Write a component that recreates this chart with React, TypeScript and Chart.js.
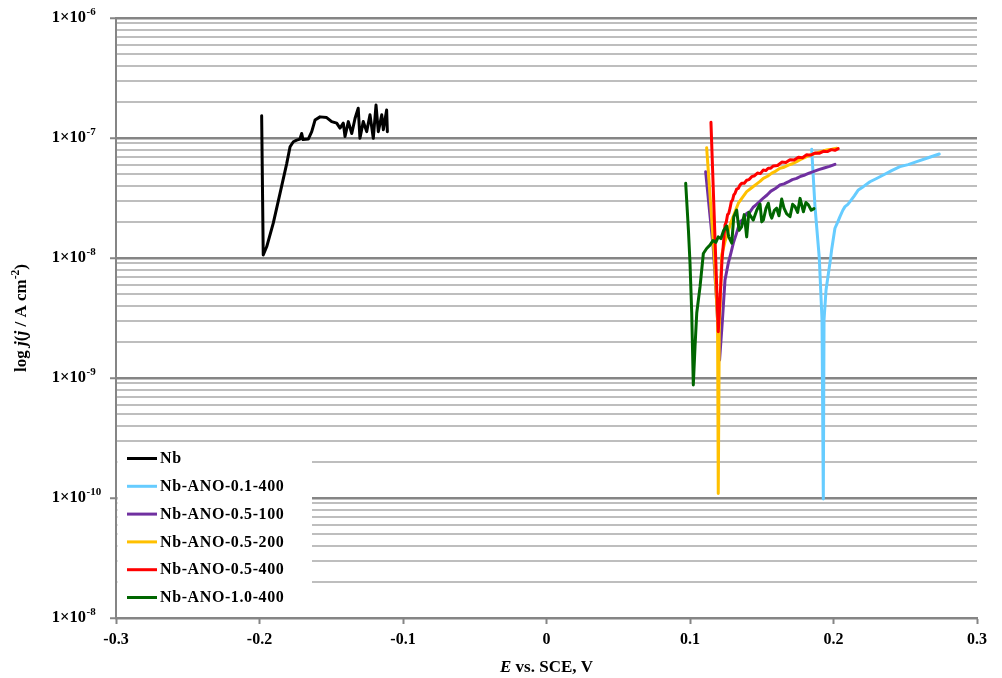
import React, { useEffect, useRef } from 'react';
import { Chart, registerables } from 'chart.js';

Chart.register(...registerables);

// Polarisation curves: potential E (V vs. SCE) and current density j (A cm-2)
const seriesNames = ['Nb', 'Nb-ANO-0.1-400', 'Nb-ANO-0.5-100', 'Nb-ANO-0.5-200', 'Nb-ANO-0.5-400', 'Nb-ANO-1.0-400'];
const seriesColors = ['#000000', '#66CCFF', '#7030A0', '#FFC000', '#FF0000', '#006600'];

const nbE = [-0.1985, -0.1974, -0.195, -0.1904, -0.1857, -0.181, -0.1787, -0.1764, -0.1741, -0.1718, -0.1706, -0.1697, -0.166, -0.1636, -0.1613, -0.1578, -0.1532, -0.1497, -0.1462, -0.1439, -0.1416, -0.1404, -0.1381, -0.1357, -0.1334, -0.1312, -0.13, -0.1277, -0.1253, -0.123, -0.1207, -0.1188, -0.1172, -0.1148, -0.1137, -0.1114, -0.1109];
const nbJ = [1.53e-7, 1.06e-8, 1.24e-8, 1.95e-8, 3.46e-8, 6.15e-8, 8.46e-8, 9.31e-8, 9.6e-8, 9.8e-8, 1.09e-7, 9.7e-8, 9.8e-8, 1.13e-7, 1.41e-7, 1.5e-7, 1.48e-7, 1.37e-7, 1.33e-7, 1.21e-7, 1.33e-7, 1.03e-7, 1.37e-7, 1.09e-7, 1.46e-7, 1.77e-7, 9.94e-8, 1.37e-7, 1.13e-7, 1.56e-7, 9.94e-8, 1.88e-7, 1.13e-7, 1.56e-7, 1.17e-7, 1.71e-7, 1.13e-7];

const ano01_400E = [0.1848, 0.1871, 0.1901, 0.192, 0.1929, 0.1934, 0.1948, 0.198, 0.1987, 0.201, 0.203, 0.2045, 0.2065, 0.208, 0.21, 0.2115, 0.2145, 0.2173, 0.221, 0.2254, 0.23, 0.2347, 0.2405, 0.2463, 0.252, 0.258, 0.266, 0.2737];
const ano01_400J = [8.05e-8, 2.68e-8, 1.0e-8, 3.05e-9, 9.8e-11, 3.05e-9, 5.41e-9, 1.0e-8, 1.17e-8, 1.77e-8, 2.0e-8, 2.21e-8, 2.5e-8, 2.68e-8, 2.8e-8, 2.95e-8, 3.3e-8, 3.69e-8, 3.95e-8, 4.32e-8, 4.6e-8, 4.92e-8, 5.35e-8, 5.77e-8, 6.0e-8, 6.35e-8, 6.85e-8, 7.36e-8];

const ano05_100E = [0.1109, 0.1139, 0.1162, 0.1185, 0.1206, 0.1226, 0.1244, 0.1267, 0.1285, 0.1302, 0.1325, 0.1348, 0.137, 0.1395, 0.1418, 0.144, 0.146, 0.1485, 0.1511, 0.1537, 0.1564, 0.1595, 0.1627, 0.1655, 0.1683, 0.1713, 0.1743, 0.1772, 0.1801, 0.183, 0.1859, 0.1897, 0.1934, 0.1972, 0.201];
const ano05_100J = [5.24e-8, 2.28e-8, 1.21e-8, 4.47e-9, 1.41e-9, 3.05e-9, 6.56e-9, 9.08e-9, 1.1e-8, 1.33e-8, 1.62e-8, 2.0e-8, 2.1e-8, 2.35e-8, 2.42e-8, 2.65e-8, 2.77e-8, 2.95e-8, 3.16e-8, 3.35e-8, 3.61e-8, 3.8e-8, 4.06e-8, 4.15e-8, 4.3e-8, 4.5e-8, 4.61e-8, 4.8e-8, 4.92e-8, 5.1e-8, 5.24e-8, 5.45e-8, 5.62e-8, 5.8e-8, 6.04e-8];

const ano05_200E = [0.1116, 0.1169, 0.1192, 0.1197, 0.1204, 0.1221, 0.1244, 0.1262, 0.1279, 0.1297, 0.1314, 0.1337, 0.1366, 0.1395, 0.143, 0.1465, 0.1488, 0.1511, 0.154, 0.157, 0.1598, 0.1627, 0.1656, 0.1685, 0.1714, 0.1743, 0.1767, 0.179, 0.1813, 0.1836, 0.1866, 0.1895, 0.1924, 0.1953, 0.1988, 0.2022];
const ano05_200J = [8.3e-8, 1.06e-8, 3.05e-9, 1.09e-10, 2.51e-9, 1.06e-8, 1.37e-8, 1.6e-8, 1.88e-8, 2.15e-8, 2.43e-8, 2.86e-8, 3.2e-8, 3.57e-8, 3.85e-8, 4.15e-8, 4.35e-8, 4.61e-8, 4.8e-8, 5.1e-8, 5.3e-8, 5.59e-8, 5.7e-8, 5.95e-8, 6.1e-8, 6.35e-8, 6.6e-8, 6.8e-8, 7.0e-8, 7.22e-8, 7.4e-8, 7.6e-8, 7.75e-8, 7.94e-8, 8.05e-8, 8.2e-8];

const ano05_400E = [0.1146, 0.1197, 0.1209, 0.1223, 0.1244, 0.1253, 0.1262, 0.127, 0.1279, 0.1288, 0.1297, 0.1305, 0.1314, 0.1325, 0.1337, 0.1348, 0.136, 0.1378, 0.1395, 0.1412, 0.143, 0.145, 0.147, 0.149, 0.1511, 0.1528, 0.1545, 0.1563, 0.1581, 0.161, 0.164, 0.1668, 0.1697, 0.1726, 0.1755, 0.1784, 0.1813, 0.1842, 0.187, 0.19, 0.1929, 0.1957, 0.1985, 0.201, 0.2033];
const ano05_400J = [1.35e-7, 2.43e-9, 4.47e-9, 9.6e-9, 1.88e-8, 2.0e-8, 2.3e-8, 2.35e-8, 2.6e-8, 2.95e-8, 3.05e-8, 3.35e-8, 3.46e-8, 3.75e-8, 3.8e-8, 4.05e-8, 4.19e-8, 4.2e-8, 4.45e-8, 4.5e-8, 4.76e-8, 4.85e-8, 5.1e-8, 5.05e-8, 5.41e-8, 5.35e-8, 5.6e-8, 5.6e-8, 5.85e-8, 5.9e-8, 6.3e-8, 6.25e-8, 6.6e-8, 6.55e-8, 6.9e-8, 6.85e-8, 7.25e-8, 7.2e-8, 7.5e-8, 7.45e-8, 7.75e-8, 7.7e-8, 8.0e-8, 7.9e-8, 8.15e-8];

const ano10_400E = [0.097, 0.0989, 0.1, 0.1012, 0.1023, 0.1035, 0.1047, 0.107, 0.1093, 0.1116, 0.1139, 0.116, 0.118, 0.1197, 0.1215, 0.1235, 0.1256, 0.127, 0.1291, 0.1305, 0.1325, 0.1342, 0.136, 0.1378, 0.1395, 0.141, 0.1418, 0.1441, 0.1465, 0.1488, 0.15, 0.1511, 0.153, 0.1546, 0.156, 0.157, 0.1588, 0.1604, 0.162, 0.1639, 0.1655, 0.1674, 0.1697, 0.1715, 0.1732, 0.175, 0.1767, 0.179, 0.1808, 0.1825, 0.1845, 0.1864];
const ano10_400J = [4.19e-8, 1.71e-8, 9.08e-9, 3.48e-9, 8.74e-10, 1.82e-9, 3.48e-9, 5.77e-9, 1.09e-8, 1.2e-8, 1.28e-8, 1.4e-8, 1.35e-8, 1.5e-8, 1.45e-8, 1.7e-8, 1.85e-8, 1.5e-8, 1.33e-8, 2.2e-8, 2.51e-8, 1.7e-8, 1.82e-8, 2.3e-8, 1.5e-8, 2.4e-8, 2.28e-8, 2.07e-8, 2.5e-8, 2.82e-8, 2.0e-8, 2.07e-8, 2.6e-8, 2.86e-8, 2.3e-8, 2.15e-8, 2.5e-8, 2.6e-8, 2.25e-8, 3.1e-8, 2.6e-8, 2.33e-8, 2.21e-8, 2.8e-8, 2.68e-8, 2.4e-8, 3.14e-8, 2.43e-8, 2.9e-8, 2.77e-8, 2.5e-8, 2.58e-8];

const seriesE = [nbE, ano01_400E, ano05_100E, ano05_200E, ano05_400E, ano10_400E];
const seriesJ = [nbJ, ano01_400J, ano05_100J, ano05_200J, ano05_400J, ano10_400J];

// Axis ticks
const xTicks = [-0.3, -0.2, -0.1, 0, 0.1, 0.2, 0.3];
const xTickLabels = ['-0.3', '-0.2', '-0.1', '0', '0.1', '0.2', '0.3'];
const yDecades = [1e-11, 1e-10, 1e-9, 1e-8, 1e-7, 1e-6];
const yDecadeExponents = ['-8', '-10', '-9', '-8', '-7', '-6'];
const yMinorMultipliers = [2, 3, 4, 5, 6, 7, 8, 9];

const SERIF = '"Liberation Serif", "Times New Roman", serif';
const MAJOR_GRID = '#858585';
const MINOR_GRID = '#BEBEBE';
const AXIS_GREY = '#858585';

const yGridValues: number[] = [];
yDecades.forEach((d, i) => {
  yGridValues.push(d);
  if (i < yDecades.length - 1) yMinorMultipliers.forEach((m) => yGridValues.push(d * m));
});

const isDecade = (v: number) => Math.abs(Math.log10(v) - Math.round(Math.log10(v))) < 1e-6;

type Seg = { t: string; italic?: boolean; sup?: boolean };

function drawSegments(ctx: CanvasRenderingContext2D, segs: Seg[], cx: number, cy: number, size: number, supSize: number) {
  const fontFor = (s: Seg) => `${s.italic ? 'italic ' : ''}bold ${s.sup ? supSize : size}px ${SERIF}`;
  let total = 0;
  segs.forEach((s) => {
    ctx.font = fontFor(s);
    total += ctx.measureText(s.t).width;
  });
  let x = cx - total / 2;
  ctx.textAlign = 'left';
  ctx.textBaseline = 'middle';
  segs.forEach((s) => {
    ctx.font = fontFor(s);
    ctx.fillText(s.t, x, s.sup ? cy - size * 0.35 : cy);
    x += ctx.measureText(s.t).width;
  });
}

const decorations = {
  id: 'decorations',
  afterDatasetsDraw(chart: any) {
    const { ctx, chartArea } = chart;
    ctx.save();
    // legend panel in the lower-left corner of the plot
    const boxLeft = chartArea.left + 1.5;
    const boxTop = 444;
    ctx.fillStyle = '#ffffff';
    ctx.fillRect(boxLeft, boxTop, 312 - boxLeft, chartArea.bottom - 1 - boxTop);
    chart.data.datasets.forEach((ds: any, i: number) => {
      const y = 458.5 + i * 27.8;
      ctx.strokeStyle = ds.borderColor;
      ctx.lineWidth = 3;
      ctx.lineCap = 'butt';
      ctx.beginPath();
      ctx.moveTo(127, y);
      ctx.lineTo(157, y);
      ctx.stroke();
      ctx.fillStyle = '#000';
      ctx.font = `bold 16px ${SERIF}`;
      ctx.textAlign = 'left';
      ctx.textBaseline = 'middle';
      (ctx as any).letterSpacing = '0.6px';
      ctx.fillText(ds.label, 160, y + 0.5);
      (ctx as any).letterSpacing = '0px';
    });
    ctx.restore();
  },
  afterDraw(chart: any) {
    const { ctx, chartArea, scales } = chart;
    ctx.save();
    ctx.fillStyle = '#000';
    // y tick labels with raised exponents
    yDecades.forEach((v, i) => {
      const y = scales.y.getPixelForValue(v);
      ctx.font = `bold 16.5px ${SERIF}`;
      ctx.textAlign = 'right';
      ctx.textBaseline = 'middle';
      ctx.fillText('1×10', 86, y);
      ctx.font = `bold 11px ${SERIF}`;
      ctx.textAlign = 'left';
      ctx.fillText(yDecadeExponents[i], 86.5, y - 5.5);
    });
    // x axis title
    drawSegments(ctx, [{ t: 'E', italic: true }, { t: ' vs. SCE, V' }], (chartArea.left + chartArea.right) / 2, 668, 17, 11.5);
    // y axis title
    ctx.translate(22, (chartArea.top + chartArea.bottom) / 2);
    ctx.rotate(-Math.PI / 2);
    drawSegments(
      ctx,
      [{ t: 'log ' }, { t: 'j', italic: true }, { t: '(' }, { t: 'j', italic: true }, { t: ' / A cm' }, { t: '-2', sup: true }, { t: ')' }],
      0,
      0,
      17,
      11.5
    );
    ctx.restore();
  },
};

export default function App() {
  const canvasRef = useRef<HTMLCanvasElement | null>(null);

  useEffect(() => {
    if (!canvasRef.current) return;
    const datasets = seriesNames.map((name, i) => ({
      label: name,
      data: seriesE[i].map((e, k) => ({ x: e, y: seriesJ[i][k] })),
      borderColor: seriesColors[i],
      backgroundColor: seriesColors[i],
      borderWidth: 3,
      pointRadius: 0,
      pointHoverRadius: 0,
      showLine: true,
      tension: 0,
      fill: false,
      borderJoinStyle: 'round' as const,
      borderCapStyle: 'round' as const,
      order: seriesNames.length - i,
    }));

    const chart = new Chart(canvasRef.current, {
      type: 'scatter',
      data: { datasets },
      options: {
        animation: false,
        responsive: false,
        layout: { padding: { top: 18, right: 25, left: 0, bottom: 0 } },
        plugins: { legend: { display: false }, tooltip: { enabled: false } },
        scales: {
          x: {
            type: 'linear',
            min: -0.3,
            max: 0.3,
            afterBuildTicks: (s: any) => {
              s.ticks = xTicks.map((v) => ({ value: v }));
            },
            afterFit: (s: any) => {
              s.height = 60;
            },
            ticks: {
              autoSkip: false,
              maxRotation: 0,
              padding: 6,
              color: '#000',
              font: { family: SERIF, size: 16, weight: 'bold' },
              callback: (_v: any, idx: number) => xTickLabels[idx],
            },
            grid: { drawOnChartArea: false, drawTicks: true, tickLength: 6, tickColor: AXIS_GREY, tickWidth: 2 },
            border: { color: AXIS_GREY, width: 2 },
          },
          y: {
            type: 'logarithmic',
            min: 1e-11,
            max: 1e-6,
            afterBuildTicks: (s: any) => {
              s.ticks = yGridValues.map((v) => ({ value: v }));
            },
            afterFit: (s: any) => {
              s.width = 116;
            },
            ticks: { display: false, autoSkip: false },
            grid: {
              drawTicks: true,
              tickLength: 6,
              color: (c: any) => (c.tick && isDecade(c.tick.value) ? MAJOR_GRID : MINOR_GRID),
              lineWidth: (c: any) => (c.tick && isDecade(c.tick.value) ? 2.5 : 2),
              tickColor: (c: any) => (c.tick && isDecade(c.tick.value) ? AXIS_GREY : 'rgba(0,0,0,0)'),
              tickWidth: 2,
            },
            border: { color: AXIS_GREY, width: 2 },
          },
        },
      },
      plugins: [decorations],
    });
    return () => chart.destroy();
  }, []);

  return (
    <div style={{ position: 'absolute', left: 0, top: 0, width: 1002, height: 678, background: '#fff' }}>
      <canvas ref={canvasRef} width={1002} height={678} />
    </div>
  );
}
